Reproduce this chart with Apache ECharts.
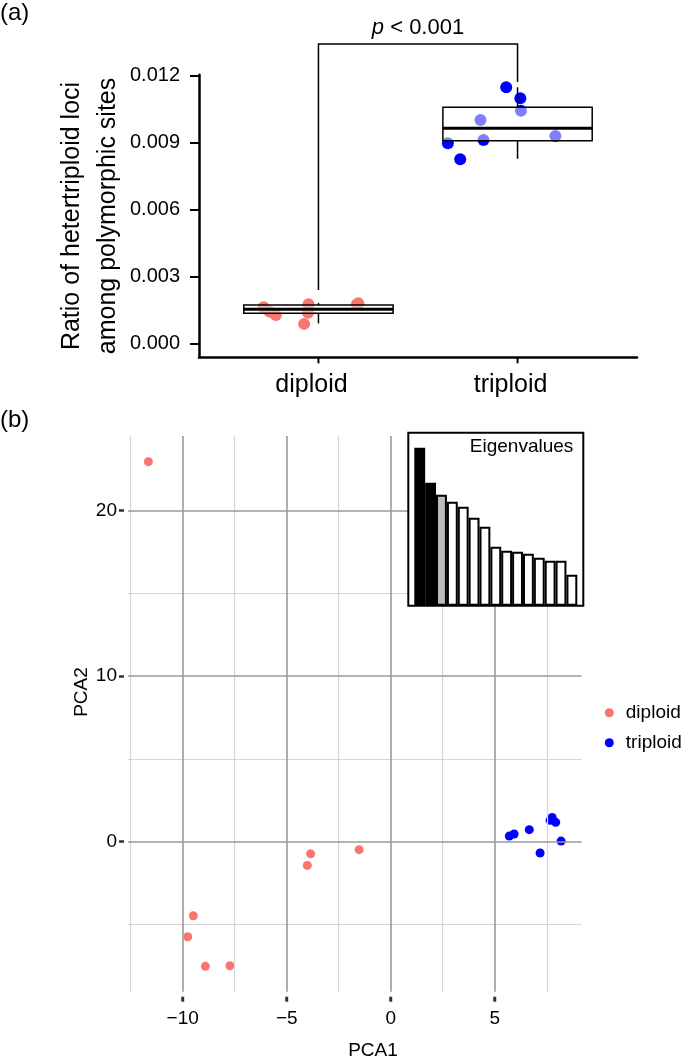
<!DOCTYPE html>
<html>
<head>
<meta charset="utf-8">
<script src="https://cdn.jsdelivr.net/npm/echarts@6/dist/echarts.min.js"></script>
<style>
  html, body { margin: 0; padding: 0; background: #fff; }
  #chart { width: 685px; height: 1059px; }
</style>
</head>
<body>
<div id="chart"></div>
<script>
// (a) ratio of hetertriploid loci, jittered points + boxes
const groups = ["diploid", "triploid"];
const ratioTicks = [0, 0.003, 0.006, 0.009, 0.012];
const diploidJitter = [0.724, 0.754, 0.786, 0.95, 0.948, 0.928, 1.2, 1.193];
const diploidRatio = [0.00162, 0.00142, 0.00127, 0.00175, 0.00137, 0.00087, 0.0018, 0.00174];
const triploidJitter = [1.943, 2.014, 2.017, 1.814, 1.829, 1.65, 1.712, 2.19];
const triploidRatio = [0.01149, 0.011, 0.01044, 0.01002, 0.00912, 0.00898, 0.00826, 0.0093];
// [lower whisker, q1, median, q3, upper whisker]
const diploidBox = [0.00089, 0.00135, 0.00153, 0.00172, 0.00181];
const triploidBox = [0.00828, 0.00909, 0.00965, 0.01059, 0.01149];
// significance bracket
const bracketTop = 0.01343;
const bracketEnds = [0.00239, 0.01173];
const pText = "< 0.001";

// (b) PCA
const pca1Ticks = [-10, -5, 0, 5];
const pca2Ticks = [0, 10, 20];
const pca1Minor = [-12.5, -7.5, -2.5, 2.5, 7.5];
const pca2Minor = [-5, 5, 15];
const diploidPCA1 = [-11.65, -3.85, -4.01, -1.52, -9.49, -9.76, -8.91, -7.73];
const diploidPCA2 = [22.96, -0.73, -1.43, -0.48, -4.47, -5.74, -7.53, -7.49];
const triploidPCA1 = [5.7, 5.93, 6.66, 7.66, 7.76, 7.93, 8.19, 7.18];
const triploidPCA2 = [0.34, 0.47, 0.73, 1.29, 1.47, 1.17, 0.04, -0.68];
const eigenvalues = [15.8, 12.3, 11.1, 10.4, 9.9, 8.8, 7.9, 5.9, 5.5, 5.4, 5.2, 4.8, 4.5, 4.5, 3.1];

const FONT = '"Liberation Sans", Arial, sans-serif';
const RED = "#F8766D";
const BLUE = "#0000FF";
const zip = (a, b) => a.map((v, i) => [v, b[i]]);
const minus = (v) => (v < 0 ? "\u2212" + Math.abs(v) : String(v));

// axis ranges
const ratioMin = -0.00063, ratioMax = 0.01205;
const pca1Min = -12.63, pca1Max = 9.18;
const pca2Min = -9.06, pca2Max = 24.51;

const chart = echarts.init(document.getElementById("chart"));

const majorLine = { color: "#9a9a9a", width: 1.6, type: "solid" };
const minorLine = { color: "#d6d6d6", width: 1.2, type: "solid" };
const gridLines = [
  ...pca1Minor.map((v) => ({ xAxis: v, lineStyle: minorLine })),
  ...pca2Minor.map((v) => ({ yAxis: v, lineStyle: minorLine })),
  ...pca1Ticks.map((v) => ({ xAxis: v, lineStyle: majorLine })),
  ...pca2Ticks.map((v) => ({ yAxis: v, lineStyle: majorLine })),
];

// short vertical tick marks under an x axis, placed through the axis scale
const xTicks = (gap, len, color, width) => (params, api) => {
  const p = api.coord([api.value(0), api.value(1)]);
  return {
    type: "line",
    shape: { x1: p[0], y1: p[1] + gap, x2: p[0], y2: p[1] + gap + len },
    style: { stroke: color, lineWidth: width },
  };
};

const option = {
  animation: false,
  textStyle: { fontFamily: FONT },
  grid: [
    { left: 199, top: 74.8, width: 438, height: 282.5 },
    { left: 128, top: 436, width: 453.7, height: 555.7 },
    { left: 408.3, top: 432.7, width: 175, height: 173, show: true, z: 10,
      backgroundColor: "#fff", borderColor: "#000", borderWidth: 2 },
    { left: 414.3, top: 432.7, width: 163, height: 173 },
  ],
  xAxis: [
    {
      gridIndex: 0, type: "value", min: 0.4, max: 2.6,
      axisLine: { onZero: false, lineStyle: { color: "#000", width: 2.5 } },
      axisTick: { show: false },
      axisLabel: {
        customValues: [1, 2], formatter: (v) => groups[Math.round(v) - 1],
        fontSize: 25, color: "#000", margin: 15, padding: [0, 14, 0, 0],
      },
      splitLine: { show: false },
    },
    {
      gridIndex: 1, type: "value", min: pca1Min, max: pca1Max, offset: 5,
      axisLine: { show: false, onZero: false },
      axisTick: { show: false },
      axisLabel: { customValues: pca1Ticks, formatter: minus, fontSize: 19, color: "#000", margin: 13 },
      splitLine: { show: false },
    },
    { gridIndex: 3, type: "category", data: eigenvalues.map((_, i) => i + 1), show: false },
    { gridIndex: 2, type: "value", show: false },
  ],
  yAxis: [
    {
      gridIndex: 0, type: "value", min: ratioMin, max: ratioMax,
      axisLine: { show: true, onZero: false, lineStyle: { color: "#000", width: 2.5 } },
      axisTick: { show: true, customValues: ratioTicks, length: 9, lineStyle: { color: "#000", width: 2 } },
      axisLabel: { customValues: ratioTicks, formatter: (v) => v.toFixed(3), fontSize: 20, color: "#000", margin: 19 },
      splitLine: { show: false },
    },
    {
      gridIndex: 1, type: "value", min: pca2Min, max: pca2Max, offset: 4,
      axisLine: { show: false, onZero: false },
      axisTick: { show: true, customValues: pca2Ticks, length: 5, lineStyle: { color: "#333", width: 2.5 } },
      axisLabel: { customValues: pca2Ticks, formatter: minus, fontSize: 19, color: "#000", margin: 7 },
      splitLine: { show: false },
    },
    { gridIndex: 3, type: "value", min: 0, max: 17.3, show: false },
    { gridIndex: 2, type: "value", show: false },
  ],
  legend: {
    data: groups, orient: "vertical", left: 604.8, top: 702.7, padding: 0,
    itemWidth: 9, itemHeight: 9, itemGap: 10, icon: "circle",
    textStyle: { fontSize: 19, lineHeight: 20, color: "#000", padding: [0, 0, 0, 7] },
  },
  graphic: [
    { type: "text", x: 0, y: 13.5, style: { text: "(a)", font: "24px " + FONT, fill: "#000", align: "left", verticalAlign: "middle" } },
    { type: "text", x: 0, y: 420, style: { text: "(b)", font: "24px " + FONT, fill: "#000", align: "left", verticalAlign: "middle" } },
    { type: "text", x: 72.5, y: 216, rotation: Math.PI / 2,
      style: { text: "Ratio of hetertriploid loci", font: "25px " + FONT, fill: "#000", align: "center", verticalAlign: "middle" } },
    { type: "text", x: 108, y: 216, rotation: Math.PI / 2,
      style: { text: "among polymorphic sites", font: "25px " + FONT, fill: "#000", align: "center", verticalAlign: "middle" } },
    { type: "text", x: 82, y: 692, rotation: Math.PI / 2,
      style: { text: "PCA2", font: "19px " + FONT, fill: "#000", align: "center", verticalAlign: "middle" } },
    { type: "text", x: 373, y: 1051, style: { text: "PCA1", font: "19px " + FONT, fill: "#000", align: "center", verticalAlign: "middle" } },
    { type: "text", x: 573.3, y: 447, z: 100,
      style: { text: "Eigenvalues", font: "19px " + FONT, fill: "#000", align: "right", verticalAlign: "middle" } },
  ],
  series: [
    {
      name: "diploid", type: "scatter", xAxisIndex: 0, yAxisIndex: 0,
      data: zip(diploidJitter, diploidRatio), symbolSize: 12,
      itemStyle: { color: RED, opacity: 1 }, z: 2,
    },
    {
      name: "triploid", type: "scatter", xAxisIndex: 0, yAxisIndex: 0,
      data: zip(triploidJitter, triploidRatio), symbolSize: 12,
      itemStyle: { color: BLUE, opacity: 1 }, z: 2,
    },
    {
      type: "custom", xAxisIndex: 0, yAxisIndex: 0, z: 3, clip: false, silent: true,
      data: [[1, ...diploidBox], [2, ...triploidBox]],
      encode: { x: 0, y: [1, 2, 3, 4, 5] },
      renderItem: (params, api) => {
        const x = api.value(0);
        const half = api.size([0.75, 0])[0] / 2;
        const p = (i) => api.coord([x, api.value(i)]);
        const lo = p(1), q1 = p(2), med = p(3), q3 = p(4), hi = p(5);
        const cx = lo[0];
        const st = { stroke: "#000", lineWidth: 1.5 };
        return {
          type: "group",
          children: [
            { type: "line", shape: { x1: cx, y1: lo[1], x2: cx, y2: q1[1] }, style: st },
            { type: "line", shape: { x1: cx, y1: q3[1], x2: cx, y2: hi[1] }, style: st },
            { type: "rect", shape: { x: cx - half, y: q3[1], width: 2 * half, height: q1[1] - q3[1] },
              style: { fill: "rgba(255,255,255,0.5)", stroke: "#000", lineWidth: 1.5 } },
            { type: "line", shape: { x1: cx - half, y1: med[1], x2: cx + half, y2: med[1] },
              style: { stroke: "#000", lineWidth: 3 } },
          ],
        };
      },
    },
    {
      type: "custom", xAxisIndex: 0, yAxisIndex: 0, z: 3, clip: false, silent: true,
      data: [[1, 2, bracketEnds[0], bracketTop, bracketEnds[1]]],
      encode: { x: [0, 1], y: [2, 3, 4] },
      renderItem: (params, api) => {
        const a = api.coord([api.value(0), api.value(2)]);
        const b = api.coord([api.value(0), api.value(3)]);
        const c = api.coord([api.value(1), api.value(3)]);
        const d = api.coord([api.value(1), api.value(4)]);
        return {
          type: "group",
          children: [
            { type: "polyline", shape: { points: [a, b, c, d] }, style: { stroke: "#000", lineWidth: 1.5, fill: null } },
            {
              type: "text", x: (b[0] + c[0]) / 2, y: b[1] - 16,
              style: {
                text: "{i|p} " + pText, fill: "#000", fontSize: 22, fontFamily: FONT,
                align: "center", verticalAlign: "middle",
                rich: { i: { fontStyle: "italic", fontSize: 22, fontFamily: FONT, fill: "#000" } },
              },
            },
          ],
        };
      },
    },
    {
      // x ticks of panel (a)
      type: "custom", xAxisIndex: 0, yAxisIndex: 0, z: 5, clip: false, silent: true,
      data: [1, 2].map((v) => [v, ratioMin]), encode: { x: 0, y: 1 },
      renderItem: xTicks(0, 6, "#000", 2),
    },
    {
      type: "scatter", xAxisIndex: 1, yAxisIndex: 1, data: [], z: 1, silent: true,
      markLine: {
        silent: true, symbol: ["none", "none"], label: { show: false },
        emphasis: { disabled: true }, data: gridLines,
      },
    },
    {
      // x ticks of panel (b)
      type: "custom", xAxisIndex: 1, yAxisIndex: 1, z: 5, clip: false, silent: true,
      data: pca1Ticks.map((v) => [v, pca2Min]), encode: { x: 0, y: 1 },
      renderItem: xTicks(5, 5, "#333", 3),
    },
    {
      name: "diploid", type: "scatter", xAxisIndex: 1, yAxisIndex: 1,
      data: zip(diploidPCA1, diploidPCA2), symbolSize: 9,
      itemStyle: { color: RED, opacity: 1 }, z: 4,
    },
    {
      name: "triploid", type: "scatter", xAxisIndex: 1, yAxisIndex: 1,
      data: zip(triploidPCA1, triploidPCA2), symbolSize: 9,
      itemStyle: { color: BLUE, opacity: 1 }, z: 4,
    },
    {
      type: "bar", xAxisIndex: 2, yAxisIndex: 2, z: 11, silent: true,
      data: eigenvalues, barCategoryGap: "0%",
      itemStyle: {
        borderColor: "#000", borderWidth: 2,
        color: (p) => (p.dataIndex < 2 ? "#000" : p.dataIndex === 2 ? "#bebebe" : "#fff"),
      },
    },
  ],
};

chart.setOption(option);
</script>
</body>
</html>
